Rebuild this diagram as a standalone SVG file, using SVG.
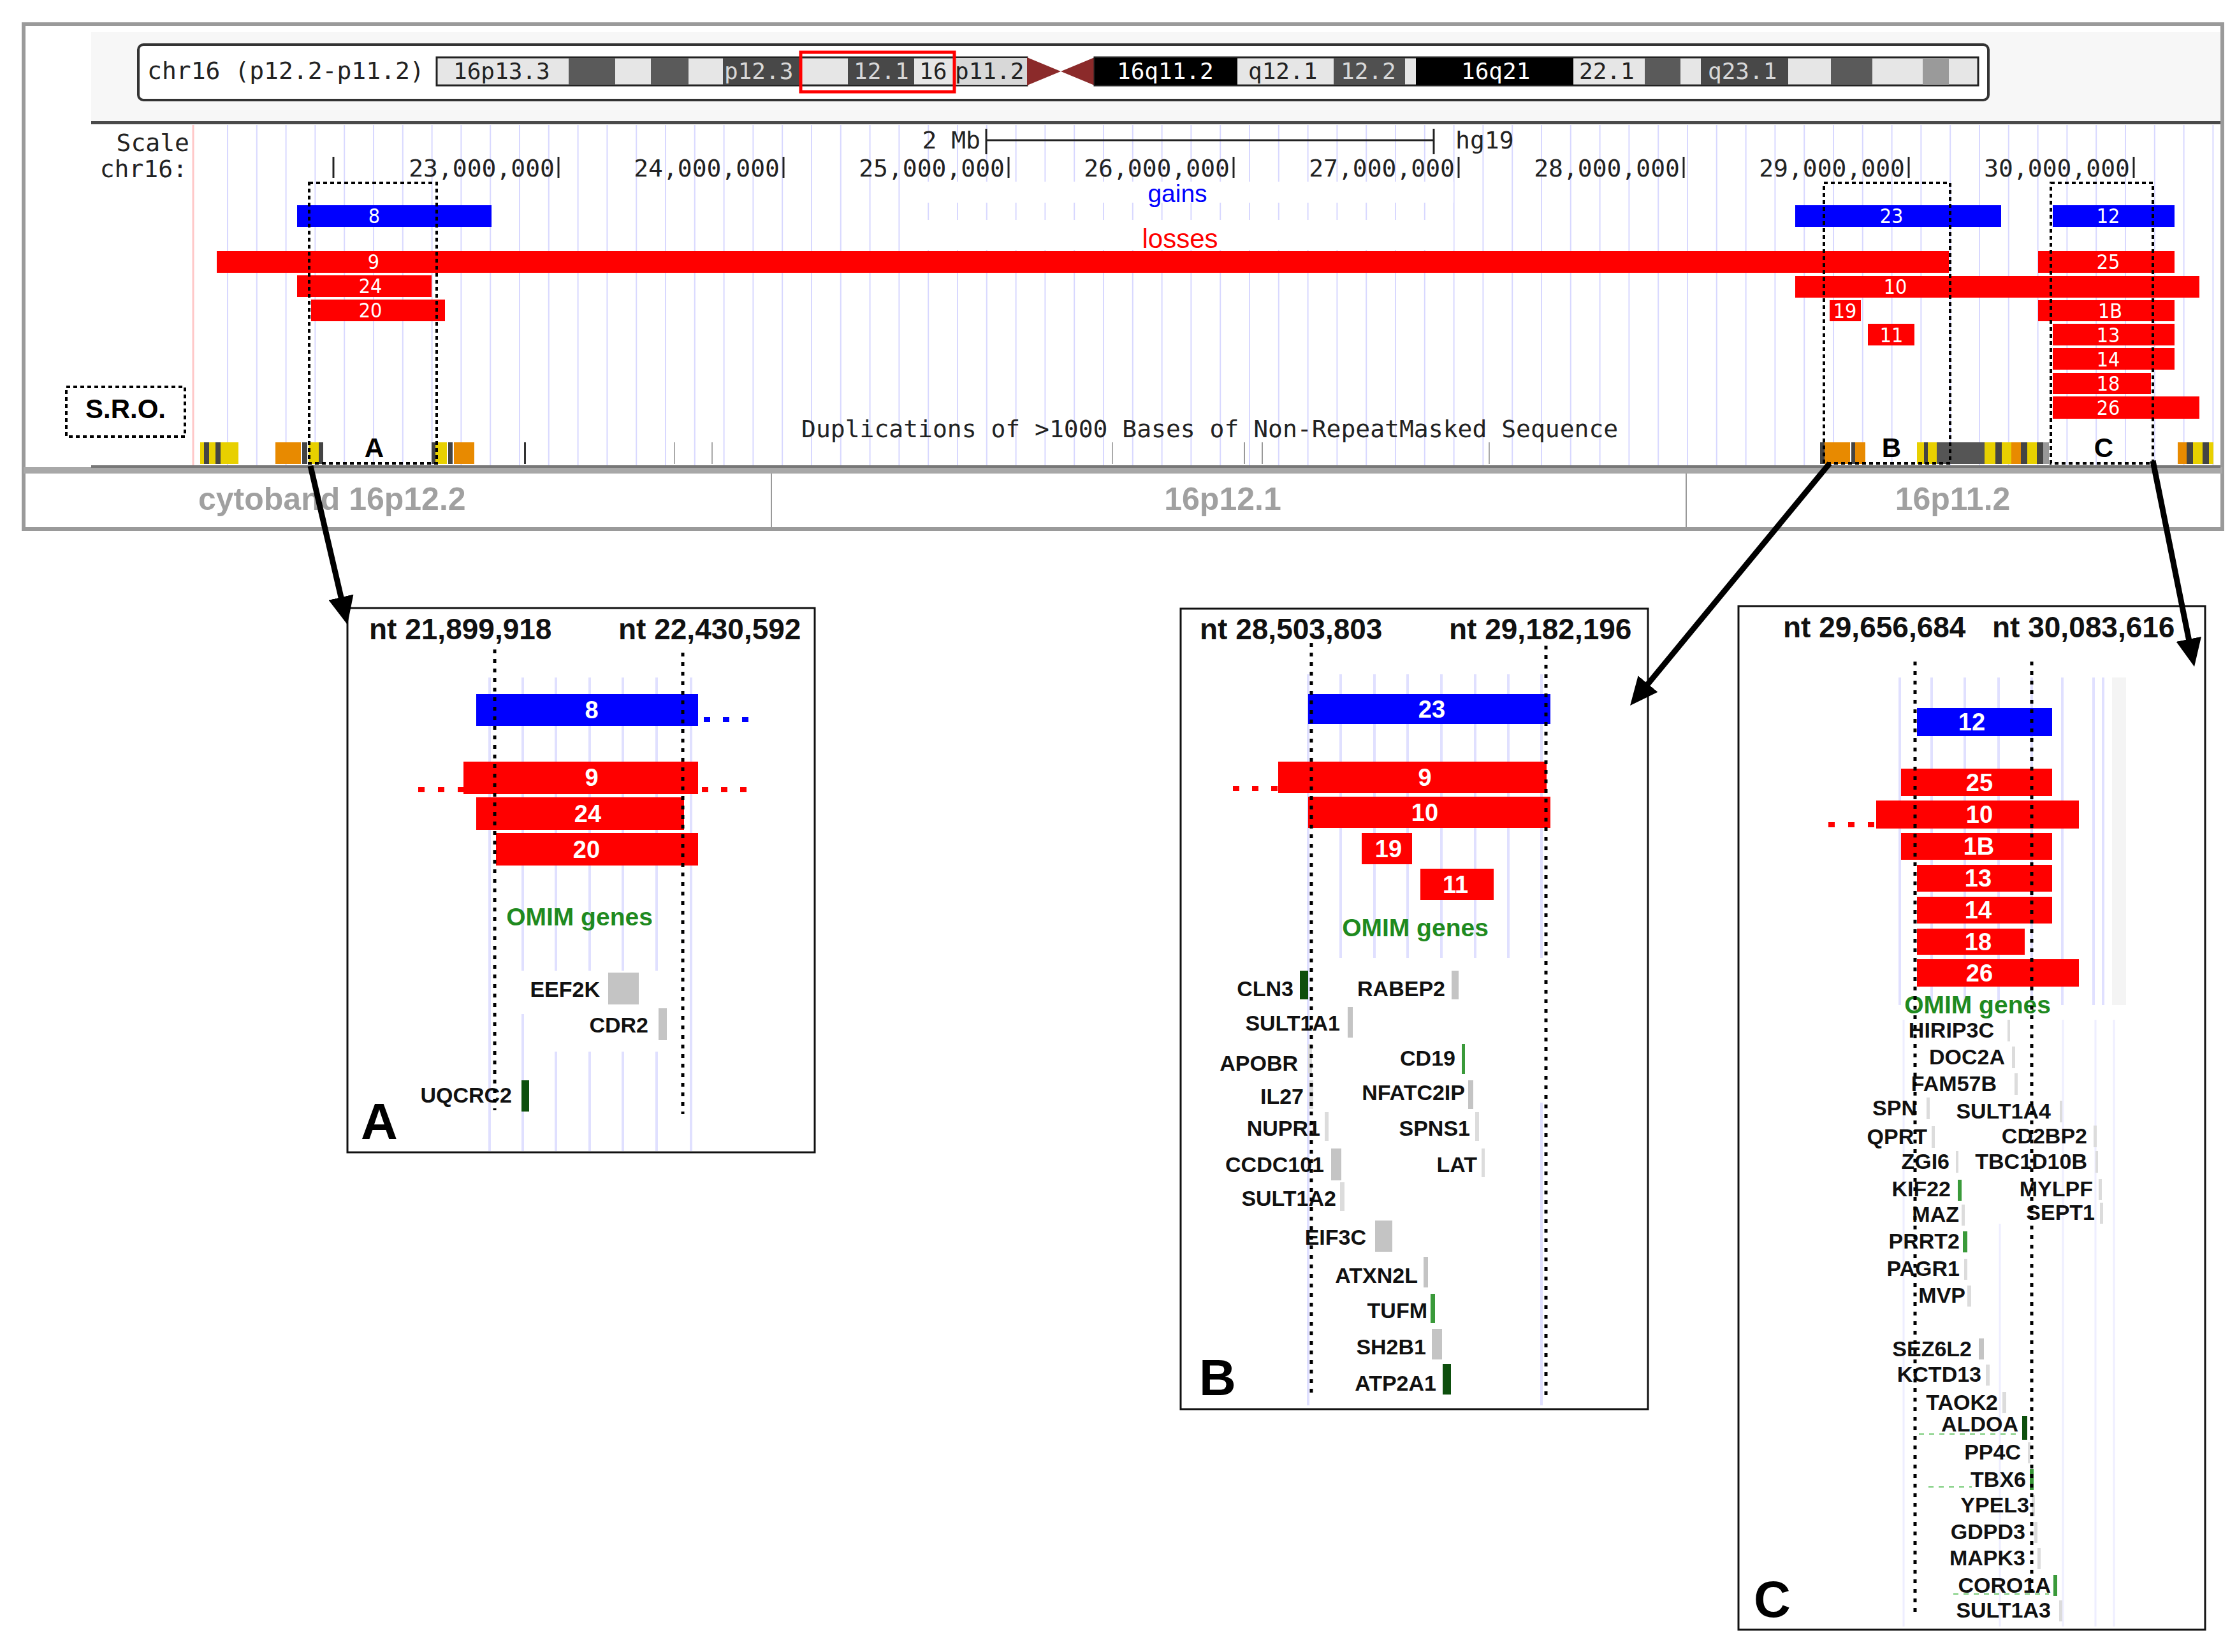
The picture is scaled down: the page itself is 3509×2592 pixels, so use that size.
<svg xmlns="http://www.w3.org/2000/svg" width="3509" height="2592" viewBox="0 0 3509 2592">
<style>
.mono{font-family:"DejaVu Sans Mono","Liberation Mono",monospace;font-size:38px;fill:#222}
.bandL{font-family:"DejaVu Sans Mono","Liberation Mono",monospace;font-size:36px;fill:#222}
.bandD{font-family:"DejaVu Sans Mono","Liberation Mono",monospace;font-size:36px;fill:#d8d8d8}
.bandK{font-family:"DejaVu Sans Mono","Liberation Mono",monospace;font-size:36px;fill:#fff}
.tl{font-family:"DejaVu Sans Condensed","DejaVu Sans",sans-serif;font-size:32px;fill:#fff;text-anchor:middle}
.bl{font-family:"Liberation Sans",Arial,sans-serif;font-weight:bold;font-size:38px;fill:#fff;text-anchor:middle}
.gene{font-family:"Liberation Sans",Arial,sans-serif;font-weight:bold;font-size:34px;fill:#111;text-anchor:end}
.nt{font-family:"Liberation Sans",Arial,sans-serif;font-weight:bold;font-size:46px;fill:#111}
.omim{font-family:"Liberation Sans",Arial,sans-serif;font-weight:bold;font-size:39px;fill:#1f8a1f;text-anchor:middle}
.plab{font-family:"Liberation Sans",Arial,sans-serif;font-weight:bold;font-size:80px;fill:#000}
.cyto{font-family:"Liberation Sans",Arial,sans-serif;font-weight:bold;font-size:50px;fill:#a0a0a0}
.red{fill:#ff0000}
.blue{fill:#0000ff}
.dotv{stroke:#000;stroke-width:5;stroke-dasharray:6 9;fill:none}
.sro{stroke:#000;stroke-width:4;stroke-dasharray:6 5;fill:none}
.pg{stroke:#e0e0ff;stroke-width:4}
.pgf{stroke:#eeeeff;stroke-width:3}
.gr{fill:#c4c4c4}
.lg{fill:#dcdcdc}
.dg{fill:#0d4f0d}
.mg{fill:#3a9a3a}
.conn{stroke:#000;stroke-width:9;fill:none;marker-end:url(#ah)}
.yel{fill:#e8d000}.org{fill:#e88a00}.drk{fill:#444}
</style>
<defs>
<pattern id="grid" x="356" y="0" width="45.8" height="20" patternUnits="userSpaceOnUse"><rect x="0" y="0" width="2" height="20" fill="#d8d8ff"/></pattern>
<marker id="ah" viewBox="0 0 44 40" refX="20" refY="20" markerWidth="44" markerHeight="40" markerUnits="userSpaceOnUse" orient="auto"><path d="M0,0 L44,20 L0,40 z" fill="#000"/></marker>
</defs>
<rect x="0" y="0" width="3509" height="2592" fill="#fff"/>

<g id="browser">
<rect x="37" y="38" width="3449" height="792" fill="#fff" stroke="#9a9a9a" stroke-width="6"/>
<rect x="143" y="50" width="3340" height="140" fill="#f7f7f7"/>
<rect x="143" y="190" width="3340" height="5" fill="#4a4a4a"/>
<g id="ideogram">
<rect x="217" y="70" width="2902" height="87" rx="8" fill="#fff" stroke="#333" stroke-width="4"/>
<text class="mono" x="231" y="124">chr16 (p12.2-p11.2)</text>
<rect x="685" y="90" width="926" height="44" fill="#e6e6e6" stroke="#222" stroke-width="3"/>
<rect x="892" y="91" width="73" height="42" fill="#5a5a5a"/>
<rect x="1021" y="91" width="59" height="42" fill="#5a5a5a"/>
<rect x="1134" y="91" width="123" height="42" fill="#484848"/>
<rect x="1330" y="91" width="104" height="42" fill="#484848"/>
<rect x="1498" y="91" width="113" height="42" fill="#d8d8d8"/>
<path d="M1611,90 L1664,112 L1611,134 z M1717,90 L1664,112 L1717,134 z" fill="#8b2a2a"/>
<rect x="1717" y="90" width="1386" height="44" fill="#e6e6e6" stroke="#222" stroke-width="3"/>
<rect x="1717" y="91" width="224" height="42" fill="#000"/>
<rect x="2092" y="91" width="112" height="42" fill="#505050"/>
<rect x="2221" y="91" width="247" height="42" fill="#000"/>
<rect x="2580" y="91" width="56" height="42" fill="#5a5a5a"/>
<rect x="2668" y="91" width="137" height="42" fill="#484848"/>
<rect x="2872" y="91" width="65" height="42" fill="#5a5a5a"/>
<rect x="3016" y="91" width="41" height="42" fill="#9a9a9a"/>
<text class="bandL" x="711" y="124">16p13.3</text>
<text class="bandD" x="1136" y="124">p12.3</text>
<text class="bandD" x="1339" y="124">12.1</text>
<text class="bandL" x="1442" y="124">16</text>
<text class="bandL" x="1498" y="124">p11.2</text>
<text class="bandK" x="1752" y="124">16q11.2</text>
<text class="bandL" x="1958" y="124">q12.1</text>
<text class="bandD" x="2103" y="124">12.2</text>
<text class="bandK" x="2292" y="124">16q21</text>
<text class="bandL" x="2477" y="124">22.1</text>
<text class="bandD" x="2679" y="124">q23.1</text>
<rect x="1256" y="82" width="241" height="62" fill="none" stroke="#ff0000" stroke-width="5"/>
</g>
<rect x="356" y="196" width="3118" height="535" fill="url(#grid)"/>
<line x1="303" y1="196" x2="303" y2="731" stroke="#ffc8c8" stroke-width="3"/>
<rect x="1453" y="285" width="827" height="33" fill="#fff"/>
<rect x="1453" y="345" width="827" height="47" fill="#fff"/>
<g id="scale">
<text class="mono" x="297" y="237" text-anchor="end">Scale</text>
<text class="mono" x="294" y="278" text-anchor="end">chr16:</text>
<text class="mono" x="1538" y="233" text-anchor="end">2 Mb</text>
<line x1="1547" y1="202" x2="1547" y2="242" stroke="#222" stroke-width="3"/>
<line x1="2249" y1="202" x2="2249" y2="242" stroke="#222" stroke-width="3"/>
<line x1="1547" y1="220" x2="2249" y2="220" stroke="#222" stroke-width="3"/>
<text class="mono" x="2283" y="233">hg19</text>
<g stroke="#222" stroke-width="3">
<line x1="523" y1="246" x2="523" y2="279"/><line x1="876" y1="246" x2="876" y2="279"/><line x1="1229" y1="246" x2="1229" y2="279"/><line x1="1582" y1="246" x2="1582" y2="279"/><line x1="1935" y1="246" x2="1935" y2="279"/><line x1="2288" y1="246" x2="2288" y2="279"/><line x1="2641" y1="246" x2="2641" y2="279"/><line x1="2994" y1="246" x2="2994" y2="279"/><line x1="3347" y1="246" x2="3347" y2="279"/>
</g>
<text class="mono" x="870" y="277" text-anchor="end">23,000,000</text>
<text class="mono" x="1223" y="277" text-anchor="end">24,000,000</text>
<text class="mono" x="1576" y="277" text-anchor="end">25,000,000</text>
<text class="mono" x="1929" y="277" text-anchor="end">26,000,000</text>
<text class="mono" x="2282" y="277" text-anchor="end">27,000,000</text>
<text class="mono" x="2635" y="277" text-anchor="end">28,000,000</text>
<text class="mono" x="2988" y="277" text-anchor="end">29,000,000</text>
<text class="mono" x="3341" y="277" text-anchor="end">30,000,000</text>
</g>
<text x="1847" y="317" text-anchor="middle" font-family="Liberation Sans, Arial, sans-serif" font-size="39" fill="#0000ff">gains</text>
<text x="1851" y="389" text-anchor="middle" font-family="Liberation Sans, Arial, sans-serif" font-size="42" fill="#ff0000">losses</text>
<g id="cnv-bars">
<rect class="blue" x="466" y="322" width="305" height="34"/>
<rect class="blue" x="2816" y="322" width="323" height="34"/>
<rect class="blue" x="3220" y="322" width="191" height="34"/>
<rect class="red" x="340" y="394" width="2717" height="34"/>
<rect class="red" x="3197" y="394" width="214" height="34"/>
<rect class="red" x="466" y="432" width="211" height="34"/>
<rect class="red" x="2816" y="433" width="634" height="34"/>
<rect class="red" x="488" y="470" width="210" height="34"/>
<rect class="red" x="2870" y="471" width="49" height="33"/>
<rect class="red" x="3197" y="471" width="214" height="33"/>
<rect class="red" x="2930" y="508" width="73" height="34"/>
<rect class="red" x="3220" y="508" width="191" height="34"/>
<rect class="red" x="3220" y="546" width="191" height="34"/>
<rect class="red" x="3220" y="585" width="154" height="33"/>
<rect class="red" x="3220" y="622" width="230" height="35"/>
<text class="tl" x="587" y="350">8</text>
<text class="tl" x="2967" y="350">23</text>
<text class="tl" x="3307" y="350">12</text>
<text class="tl" x="586" y="422">9</text>
<text class="tl" x="3307" y="422">25</text>
<text class="tl" x="581" y="460">24</text>
<text class="tl" x="2973" y="461">10</text>
<text class="tl" x="581" y="498">20</text>
<text class="tl" x="2894" y="499">19</text>
<text class="tl" x="3310" y="499">1B</text>
<text class="tl" x="2967" y="537">11</text>
<text class="tl" x="3307" y="537">13</text>
<text class="tl" x="3307" y="575">14</text>
<text class="tl" x="3307" y="613">18</text>
<text class="tl" x="3307" y="651">26</text>
</g>
<text class="mono" x="1257" y="686">Duplications of &gt;1000 Bases of Non-RepeatMasked Sequence</text>
<g id="segdups">
<rect class="yel" x="314" y="694" width="60" height="34"/><rect class="drk" x="320" y="694" width="8" height="34"/><rect class="drk" x="338" y="694" width="8" height="34"/>
<rect class="org" x="432" y="694" width="40" height="34"/><rect class="drk" x="474" y="694" width="8" height="34"/><rect class="yel" x="484" y="694" width="16" height="34"/><rect class="drk" x="500" y="694" width="7" height="34"/>
<rect class="drk" x="677" y="694" width="6" height="34"/><rect class="yel" x="683" y="694" width="18" height="34"/><rect class="drk" x="703" y="694" width="7" height="34"/><rect class="org" x="712" y="694" width="32" height="34"/>
<rect x="822" y="694" width="3" height="34" fill="#333"/>
<rect x="1057" y="694" width="2" height="34" fill="#aaa"/><rect x="1116" y="694" width="2" height="34" fill="#aaa"/>
<rect x="1744" y="694" width="2" height="34" fill="#aaa"/><rect x="1951" y="694" width="2" height="34" fill="#999"/><rect x="1979" y="694" width="2" height="34" fill="#999"/><rect x="2335" y="694" width="2" height="34" fill="#aaa"/>
<rect class="drk" x="2855" y="694" width="7" height="34"/><rect class="org" x="2862" y="694" width="40" height="34"/><rect class="drk" x="2904" y="694" width="6" height="34"/><rect class="org" x="2910" y="694" width="16" height="34"/>
<rect class="yel" x="3007" y="694" width="31" height="34"/><rect class="drk" x="3018" y="694" width="6" height="34"/>
<rect x="3038" y="694" width="75" height="34" fill="#555"/>
<rect class="yel" x="3113" y="694" width="17" height="34"/><rect class="drk" x="3130" y="694" width="10" height="34"/><rect class="yel" x="3140" y="694" width="15" height="34"/><rect class="org" x="3155" y="694" width="15" height="34"/><rect class="drk" x="3170" y="694" width="10" height="34"/><rect class="yel" x="3180" y="694" width="15" height="34"/><rect class="drk" x="3195" y="694" width="10" height="34"/><rect x="3205" y="694" width="9" height="34" fill="#999"/>
<rect class="org" x="3416" y="694" width="14" height="34"/><rect class="drk" x="3430" y="694" width="10" height="34"/><rect class="yel" x="3440" y="694" width="15" height="34"/><rect class="drk" x="3455" y="694" width="10" height="34"/><rect class="yel" x="3465" y="694" width="7" height="34"/>
</g>
<g id="sro-boxes">
<rect class="sro" x="485" y="287" width="200" height="440"/>
<rect class="sro" x="2861" y="287" width="198" height="440"/>
<rect class="sro" x="3217" y="287" width="160" height="440"/>
<rect class="sro" x="104" y="607" width="186" height="78"/>
<text x="197" y="656" text-anchor="middle" font-family="Liberation Sans, Arial, sans-serif" font-weight="bold" font-size="42" fill="#000">S.R.O.</text>
<text x="587" y="717" text-anchor="middle" font-family="Liberation Sans, Arial, sans-serif" font-weight="bold" font-size="42" fill="#000">A</text>
<text x="2967" y="717" text-anchor="middle" font-family="Liberation Sans, Arial, sans-serif" font-weight="bold" font-size="42" fill="#000">B</text>
<text x="3300" y="717" text-anchor="middle" font-family="Liberation Sans, Arial, sans-serif" font-weight="bold" font-size="42" fill="#000">C</text>
</g>
<rect x="37" y="733" width="3449" height="10" fill="#a8a8a8"/>
<rect x="143" y="730" width="3340" height="4" fill="#777"/>
<g id="cytobands">
<line x1="1210" y1="743" x2="1210" y2="828" stroke="#999" stroke-width="2"/>
<line x1="2645" y1="743" x2="2645" y2="828" stroke="#999" stroke-width="2"/>
<text class="cyto" x="311" y="800">cytoband 16p12.2</text>
<text class="cyto" x="1918" y="800" text-anchor="middle">16p12.1</text>
<text class="cyto" x="3063" y="800" text-anchor="middle">16p11.2</text>
</g>
</g>

<g id="panel-A">
<rect x="545" y="954" width="733" height="854" fill="#fff" stroke="#111" stroke-width="3"/>
<g class="pg">
<line x1="768" y1="1063" x2="768" y2="1806"/>
<line x1="820" y1="1063" x2="820" y2="1523"/><line x1="820" y1="1591" x2="820" y2="1806"/>
<line x1="872" y1="1063" x2="872" y2="1523"/><line x1="872" y1="1650" x2="872" y2="1806"/>
<line x1="925" y1="1063" x2="925" y2="1523"/><line x1="925" y1="1650" x2="925" y2="1806"/>
<line x1="977" y1="1063" x2="977" y2="1523"/><line x1="977" y1="1650" x2="977" y2="1806"/>
<line x1="1030" y1="1063" x2="1030" y2="1523"/><line x1="1030" y1="1650" x2="1030" y2="1806"/>
<line x1="1084" y1="1063" x2="1084" y2="1806"/>
</g>
<text class="nt" x="579" y="1003">nt 21,899,918</text>
<text class="nt" x="970" y="1003">nt 22,430,592</text>
<rect class="blue" x="747" y="1089" width="348" height="50"/>
<line x1="1104" y1="1129" x2="1180" y2="1129" stroke="#0000ff" stroke-width="8" stroke-dasharray="10 20"/>
<rect class="red" x="727" y="1195" width="368" height="51"/>
<line x1="656" y1="1239" x2="727" y2="1239" stroke="#ff0000" stroke-width="8" stroke-dasharray="10 21"/>
<line x1="1101" y1="1239" x2="1180" y2="1239" stroke="#ff0000" stroke-width="8" stroke-dasharray="10 20"/>
<rect class="red" x="747" y="1251" width="326" height="51"/>
<rect class="red" x="778" y="1307" width="317" height="51"/>
<text class="bl" x="928" y="1127">8</text>
<text class="bl" x="928" y="1233">9</text>
<text class="bl" x="922" y="1290">24</text>
<text class="bl" x="920" y="1346">20</text>
<text class="omim" x="909" y="1452">OMIM genes</text>
<text class="gene" x="941" y="1564">EEF2K</text>
<rect class="gr" x="954" y="1526" width="48" height="50"/>
<text class="gene" x="1017" y="1620">CDR2</text>
<rect class="gr" x="1033" y="1582" width="13" height="50"/>
<text class="gene" x="803" y="1730">UQCRC2</text>
<rect class="dg" x="818" y="1695" width="12" height="49"/>
<text class="plab" x="566" y="1787">A</text>
<line class="dotv" x1="776" y1="1019" x2="776" y2="1742"/>
<line class="dotv" x1="1071" y1="1024" x2="1071" y2="1748"/>
</g>

<g id="panel-B">
<rect x="1852" y="955" width="733" height="1256" fill="#fff" stroke="#111" stroke-width="3"/>
<g class="pg">
<line x1="2052" y1="1058" x2="2052" y2="2205"/>
<line x1="2103" y1="1058" x2="2103" y2="1503"/>
<line x1="2156" y1="1058" x2="2156" y2="1503"/>
<line x1="2208" y1="1058" x2="2208" y2="1503"/>
<line x1="2261" y1="1058" x2="2261" y2="1503"/>
<line x1="2314" y1="1058" x2="2314" y2="1503"/>
<line x1="2366" y1="1058" x2="2366" y2="1503"/>
<line x1="2418" y1="1058" x2="2418" y2="1503"/><line x1="2418" y1="1730" x2="2418" y2="2205"/>
</g>
<text class="nt" x="1882" y="1003">nt 28,503,803</text>
<text class="nt" x="2273" y="1003">nt 29,182,196</text>
<rect class="blue" x="2052" y="1089" width="380" height="47"/>
<rect class="red" x="2005" y="1195" width="421" height="49"/>
<line x1="1934" y1="1237" x2="2005" y2="1237" stroke="#ff0000" stroke-width="8" stroke-dasharray="10 20"/>
<rect class="red" x="2052" y="1250" width="380" height="49"/>
<rect class="red" x="2136" y="1307" width="79" height="49"/>
<rect class="red" x="2228" y="1363" width="115" height="49"/>
<text class="bl" x="2246" y="1126">23</text>
<text class="bl" x="2235" y="1233">9</text>
<text class="bl" x="2235" y="1288">10</text>
<text class="bl" x="2178" y="1345">19</text>
<text class="bl" x="2283" y="1401">11</text>
<text class="omim" x="2220" y="1469">OMIM genes</text>
<text class="gene" x="2029" y="1563">CLN3</text><rect class="dg" x="2039" y="1523" width="13" height="45"/>
<text class="gene" x="2267" y="1563">RABEP2</text><rect class="gr" x="2277" y="1523" width="11" height="45"/>
<text class="gene" x="2102" y="1617">SULT1A1</text><rect class="gr" x="2114" y="1580" width="8" height="48"/>
<text class="gene" x="2036" y="1680">APOBR</text><rect class="lg" x="2052" y="1638" width="6" height="46"/>
<text class="gene" x="2283" y="1672">CD19</text><rect class="mg" x="2293" y="1638" width="5" height="47"/>
<text class="gene" x="2045" y="1732">IL27</text><rect class="lg" x="2053" y="1695" width="7" height="45"/>
<text class="gene" x="2298" y="1726">NFATC2IP</text><rect class="gr" x="2303" y="1695" width="8" height="45"/>
<text class="gene" x="2071" y="1782">NUPR1</text><rect class="lg" x="2078" y="1745" width="6" height="45"/>
<text class="gene" x="2306" y="1782">SPNS1</text><rect class="lg" x="2314" y="1745" width="6" height="45"/>
<text class="gene" x="2077" y="1839">CCDC101</text><rect class="gr" x="2088" y="1802" width="16" height="50"/>
<text class="gene" x="2317" y="1839">LAT</text><rect class="lg" x="2324" y="1802" width="5" height="45"/>
<text class="gene" x="2096" y="1892">SULT1A2</text><rect class="lg" x="2102" y="1855" width="7" height="45"/>
<text class="gene" x="2143" y="1953">EIF3C</text><rect class="gr" x="2157" y="1915" width="27" height="49"/>
<text class="gene" x="2224" y="2013">ATXN2L</text><rect class="gr" x="2233" y="1972" width="7" height="48"/>
<text class="gene" x="2239" y="2068">TUFM</text><rect class="mg" x="2244" y="2030" width="7" height="46"/>
<text class="gene" x="2237" y="2125">SH2B1</text><rect class="gr" x="2246" y="2085" width="16" height="48"/>
<text class="gene" x="2253" y="2182">ATP2A1</text><rect class="dg" x="2263" y="2140" width="13" height="48"/>
<text class="plab" x="1881" y="2189">B</text>
<line class="dotv" x1="2057" y1="1009" x2="2057" y2="2188"/>
<line class="dotv" x1="2425" y1="1013" x2="2425" y2="2192"/>
</g>

<g id="panel-C">
<rect x="2727" y="951" width="732" height="1606" fill="#fff" stroke="#111" stroke-width="3"/>
<rect x="3313" y="1063" width="22" height="514" fill="#f4f4f4"/>
<g class="pg">
<line x1="2980" y1="1063" x2="2980" y2="1577"/>
<line x1="3030" y1="1063" x2="3030" y2="1577"/>
<line x1="3082" y1="1063" x2="3082" y2="1577"/>
<line x1="3135" y1="1063" x2="3135" y2="1577"/>
<line x1="3187" y1="1063" x2="3187" y2="1577"/>
<line x1="3235" y1="1063" x2="3235" y2="1577"/>
<line x1="3284" y1="1063" x2="3284" y2="1577"/>
<line x1="3299" y1="1063" x2="3299" y2="1577"/>
</g>
<g class="pgf">
<line x1="2986" y1="1600" x2="2986" y2="2552"/>
<line x1="3137" y1="1920" x2="3137" y2="2552"/>
<line x1="3236" y1="1600" x2="3236" y2="2552"/>
<line x1="3287" y1="1600" x2="3287" y2="2552"/>
<line x1="3316" y1="1600" x2="3316" y2="2552"/>
</g>
<text class="nt" x="2797" y="1000">nt 29,656,684</text>
<text class="nt" x="3125" y="1000">nt 30,083,616</text>
<rect class="blue" x="3007" y="1111" width="212" height="44"/>
<rect class="red" x="2982" y="1206" width="237" height="43"/>
<rect class="red" x="2943" y="1256" width="318" height="44"/>
<line x1="2868" y1="1294" x2="2943" y2="1294" stroke="#ff0000" stroke-width="8" stroke-dasharray="10 21"/>
<rect class="red" x="2982" y="1307" width="237" height="42"/>
<rect class="red" x="3007" y="1357" width="212" height="42"/>
<rect class="red" x="3007" y="1407" width="212" height="42"/>
<rect class="red" x="3007" y="1457" width="169" height="41"/>
<rect class="red" x="3007" y="1505" width="254" height="43"/>
<text class="bl" x="3093" y="1146">12</text>
<text class="bl" x="3105" y="1241">25</text>
<text class="bl" x="3105" y="1291">10</text>
<text class="bl" x="3104" y="1341">1B</text>
<text class="bl" x="3103" y="1391">13</text>
<text class="bl" x="3103" y="1441">14</text>
<text class="bl" x="3103" y="1491">18</text>
<text class="bl" x="3105" y="1540">26</text>
<text class="omim" x="3102" y="1590">OMIM genes</text>
<g stroke="#7c7" stroke-width="2" stroke-dasharray="8 8">
<line x1="3010" y1="2250" x2="3166" y2="2250"/>
<line x1="3025" y1="2333" x2="3093" y2="2333"/>
<line x1="3064" y1="2501" x2="3214" y2="2501"/>
</g>
<text class="gene" x="3128" y="1628">HIRIP3C</text><rect class="lg" x="3149" y="1600" width="4" height="34"/>
<text class="gene" x="3145" y="1670">DOC2A</text><rect class="lg" x="3156" y="1642" width="5" height="34"/>
<text class="gene" x="3132" y="1712">FAM57B</text><rect class="lg" x="3160" y="1684" width="5" height="34"/>
<text class="gene" x="3007" y="1750">SPN</text><rect class="lg" x="3022" y="1722" width="5" height="34"/>
<text class="gene" x="3217" y="1755">SULT1A4</text><rect class="lg" x="3231" y="1727" width="4" height="34"/>
<text class="gene" x="3023" y="1795">QPRT</text><rect class="lg" x="3030" y="1767" width="5" height="34"/>
<text class="gene" x="3274" y="1794">CD2BP2</text><rect class="lg" x="3284" y="1766" width="5" height="34"/>
<text class="gene" x="3058" y="1834">ZGI6</text><rect class="lg" x="3068" y="1806" width="4" height="34"/>
<text class="gene" x="3274" y="1834">TBC1D10B</text><rect class="lg" x="3287" y="1806" width="4" height="34"/>
<text class="gene" x="3060" y="1877">KIF22</text><rect class="mg" x="3071" y="1851" width="6" height="33"/>
<text class="gene" x="3283" y="1877">MYLPF</text><rect class="lg" x="3292" y="1850" width="5" height="33"/>
<text class="gene" x="3073" y="1917">MAZ</text><rect class="lg" x="3077" y="1890" width="5" height="33"/>
<text class="gene" x="3286" y="1914">SEPT1</text><rect class="lg" x="3294" y="1887" width="5" height="33"/>
<text class="gene" x="3074" y="1959">PRRT2</text><rect class="mg" x="3079" y="1932" width="7" height="33"/>
<text class="gene" x="3074" y="2002">PAGR1</text><rect class="lg" x="3081" y="1975" width="5" height="33"/>
<text class="gene" x="3083" y="2044">MVP</text><rect class="lg" x="3086" y="2017" width="6" height="33"/>
<text class="gene" x="3093" y="2128">SEZ6L2</text><rect class="gr" x="3104" y="2100" width="8" height="33"/>
<text class="gene" x="3108" y="2168">KCTD13</text><rect class="lg" x="3115" y="2141" width="6" height="33"/>
<text class="gene" x="3134" y="2212">TAOK2</text><rect class="lg" x="3141" y="2184" width="6" height="33"/>
<text class="gene" x="3166" y="2246">ALDOA</text><rect class="dg" x="3172" y="2222" width="8" height="37"/>
<text class="gene" x="3170" y="2290">PP4C</text><rect class="lg" x="3181" y="2263" width="4" height="33"/>
<text class="gene" x="3178" y="2333">TBX6</text><rect class="mg" x="3184" y="2305" width="6" height="33"/>
<text class="gene" x="3183" y="2373">YPEL3</text><rect class="lg" x="3187" y="2346" width="5" height="33"/>
<text class="gene" x="3177" y="2415">GDPD3</text><rect class="lg" x="3191" y="2388" width="5" height="33"/>
<text class="gene" x="3177" y="2456">MAPK3</text><rect class="lg" x="3196" y="2429" width="5" height="33"/>
<text class="gene" x="3217" y="2499">CORO1A</text><rect class="mg" x="3221" y="2471" width="6" height="33"/>
<text class="gene" x="3217" y="2538">SULT1A3</text><rect class="lg" x="3230" y="2511" width="5" height="33"/>
<text class="plab" x="2751" y="2537">C</text>
<line class="dotv" x1="3004" y1="1038" x2="3004" y2="2537"/>
<line class="dotv" x1="3187" y1="1038" x2="3187" y2="2508"/>
</g>

<g id="connectors">
<line class="conn" x1="487" y1="731" x2="539.5" y2="956.6"/>
<line class="conn" x1="2870" y1="727" x2="2572.3" y2="1088.5"/>
<line class="conn" x1="3377" y1="723" x2="3437.3" y2="1022.5"/>
</g>
</svg>
